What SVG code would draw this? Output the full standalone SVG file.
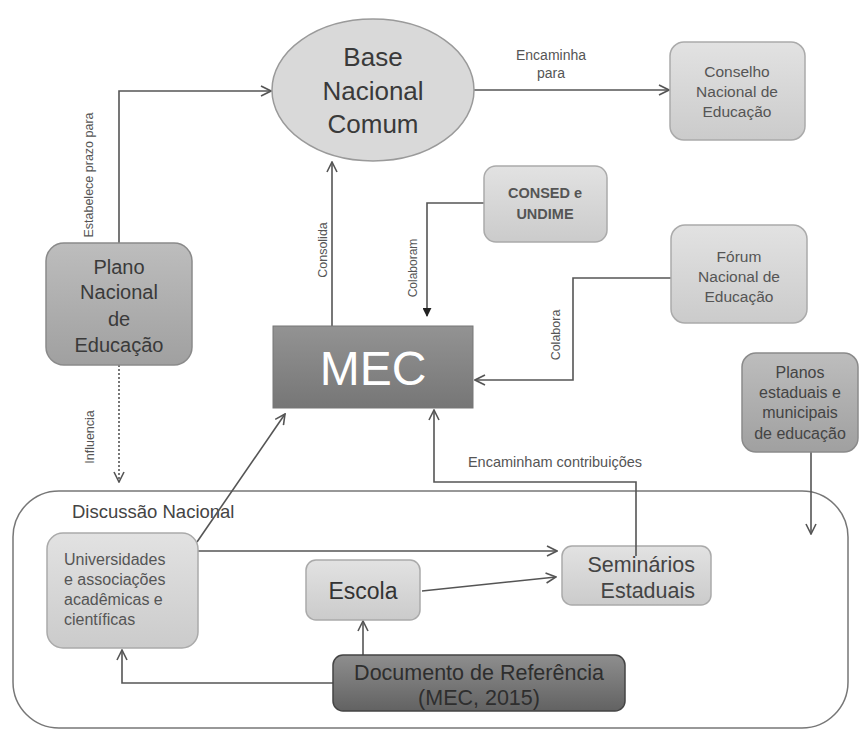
<svg xmlns="http://www.w3.org/2000/svg" width="868" height="729" viewBox="0 0 868 729">
<style>
text{font-family:"Liberation Sans","DejaVu Sans",sans-serif;fill:#3a3a3a;text-anchor:middle}
.lbl{font-size:12.5px;fill:#555}
.c{fill:none;stroke:#555;stroke-width:1.6}
.box{stroke:#aaa;stroke-width:1.5}
</style>
<defs>
<linearGradient id="gl" x1="0" y1="0" x2="0" y2="1"><stop offset="0" stop-color="#e2e2e2"/><stop offset="1" stop-color="#cbcbcb"/></linearGradient>
<linearGradient id="gm" x1="0" y1="0" x2="0" y2="1"><stop offset="0" stop-color="#bdbdbd"/><stop offset="1" stop-color="#a0a0a0"/></linearGradient>
<linearGradient id="gmec" x1="0" y1="0" x2="0" y2="1"><stop offset="0" stop-color="#939393"/><stop offset="1" stop-color="#767676"/></linearGradient>
<linearGradient id="gdoc" x1="0" y1="0" x2="0" y2="1"><stop offset="0" stop-color="#8e8e8e"/><stop offset="1" stop-color="#626262"/></linearGradient>
<marker id="ao" viewBox="0 0 12 12" refX="11" refY="6" markerWidth="12" markerHeight="12" markerUnits="userSpaceOnUse" orient="auto"><path d="M1,1 L11,6 L1,11" fill="none" stroke="#555" stroke-width="1.6"/></marker>
<marker id="af" viewBox="0 0 10 10" refX="9" refY="5" markerWidth="9" markerHeight="9" markerUnits="userSpaceOnUse" orient="auto"><path d="M0,0 L10,5 L0,10 Z" fill="#222"/></marker>
</defs>

<g id="discussao-nacional">
<rect x="13" y="491" width="835" height="237" rx="46" fill="none" stroke="#777" stroke-width="1.5"/>
<text x="72" y="518" style="text-anchor:start;font-size:18.5px;fill:#444">Discussão Nacional</text>
</g>

<g id="connectors">
<path class="c" d="M119,243 V91 H271" marker-end="url(#ao)"/>
<text class="lbl" transform="translate(93,175) rotate(-90)">Estabelece prazo para</text>
<path class="c" d="M473,90 H669" marker-end="url(#ao)"/>
<text x="551" y="60" style="font-size:14px;fill:#555">Encaminha</text>
<text x="551" y="78" style="font-size:14px;fill:#555">para</text>
<path class="c" d="M119,365 V482" stroke-dasharray="2,2" marker-end="url(#ao)"/>
<text class="lbl" transform="translate(94,437) rotate(-90)">Influencia</text>
<path class="c" d="M332,326 V162" marker-end="url(#ao)"/>
<text class="lbl" transform="translate(327,250) rotate(-90)">Consolida</text>
<path class="c" d="M484,203 H427 V316" marker-end="url(#af)"/>
<text class="lbl" transform="translate(417,268) rotate(-90)" style="font-size:12px">Colaboram</text>
<path class="c" d="M671,278 H573 V380 H475" marker-end="url(#ao)"/>
<text class="lbl" transform="translate(560,335) rotate(-90)">Colabora</text>
<path class="c" d="M811,452 V534" marker-end="url(#ao)"/>
<path class="c" d="M197,542 L285,414" marker-end="url(#ao)"/>
<path class="c" d="M198,551 H557" marker-end="url(#ao)"/>
<path class="c" d="M422,591 L556,577" marker-end="url(#ao)"/>
<path class="c" d="M363,655 V621" marker-end="url(#ao)"/>
<path class="c" d="M333,683 H122 V650" marker-end="url(#ao)"/>
<text x="555" y="467" style="font-size:14.5px;fill:#555">Encaminham contribuições</text>
</g>

<g id="base-nacional-comum">
<ellipse cx="373" cy="90" rx="101" ry="71" fill="#d9d9d9" stroke="#9a9a9a" stroke-width="1.5"/>
<text x="373" y="66" style="font-size:26px">Base</text>
<text x="373" y="100" style="font-size:26px">Nacional</text>
<text x="373" y="133" style="font-size:26px">Comum</text>
</g>

<g id="conselho">
<rect class="box" x="670" y="42" width="135" height="98" rx="14" fill="url(#gl)"/>
<text x="737" y="77" style="font-size:15.5px;fill:#555">Conselho</text>
<text x="737" y="97" style="font-size:15.5px;fill:#555">Nacional de</text>
<text x="737" y="117" style="font-size:15.5px;fill:#555">Educação</text>
</g>

<g id="plano-nacional">
<rect x="46" y="243" width="146" height="122" rx="18" fill="url(#gm)" stroke="#8a8a8a" stroke-width="1.5"/>
<text x="119" y="274" style="font-size:20px">Plano</text>
<text x="119" y="299" style="font-size:20px">Nacional</text>
<text x="119" y="326" style="font-size:20px">de</text>
<text x="119" y="352" style="font-size:20px">Educação</text>
</g>

<g id="consed">
<rect class="box" x="484" y="166" width="123" height="76" rx="12" fill="url(#gl)"/>
<text x="545" y="198" style="font-size:14.5px;font-weight:bold;fill:#555">CONSED e</text>
<text x="545" y="219" style="font-size:14.5px;font-weight:bold;fill:#555">UNDIME</text>
</g>

<g id="mec">
<rect x="273" y="326" width="200" height="82" fill="url(#gmec)" stroke="#777" stroke-width="1"/>
<text x="373" y="385" style="font-size:48px;fill:#fff">MEC</text>
</g>

<g id="forum">
<rect class="box" x="671" y="225" width="136" height="98" rx="14" fill="url(#gl)"/>
<text x="739" y="262" style="font-size:15.5px;fill:#555">Fórum</text>
<text x="739" y="282" style="font-size:15.5px;fill:#555">Nacional de</text>
<text x="739" y="302" style="font-size:15.5px;fill:#555">Educação</text>
</g>

<g id="planos-estaduais">
<rect x="742" y="353" width="116" height="99" rx="14" fill="url(#gm)" stroke="#8a8a8a" stroke-width="1.5"/>
<text x="800" y="378" style="font-size:16px;fill:#444">Planos</text>
<text x="800" y="398" style="font-size:16px;fill:#444">estaduais e</text>
<text x="800" y="418" style="font-size:16px;fill:#444">municipais</text>
<text x="800" y="439" style="font-size:16px;fill:#444">de educação</text>
</g>

<g id="universidades">
<rect class="box" x="47" y="533" width="151" height="115" rx="16" fill="url(#gl)"/>
<text x="64" y="565" style="text-anchor:start;font-size:16px;fill:#555">Universidades</text>
<text x="64" y="585" style="text-anchor:start;font-size:16px;fill:#555">e associações</text>
<text x="64" y="605" style="text-anchor:start;font-size:16px;fill:#555">acadêmicas e</text>
<text x="64" y="625" style="text-anchor:start;font-size:16px;fill:#555">científicas</text>
</g>

<g id="escola">
<rect class="box" x="306" y="560" width="114" height="60" rx="10" fill="url(#gl)"/>
<text x="363" y="599" style="font-size:23px;fill:#333">Escola</text>
</g>

<g id="seminarios">
<rect class="box" x="562" y="546" width="149" height="59" rx="10" fill="url(#gl)"/>
<text x="695" y="572" style="text-anchor:end;font-size:21.5px;fill:#444">Seminários</text>
<text x="695" y="598" style="text-anchor:end;font-size:21.5px;fill:#444">Estaduais</text>
</g>
<path class="c" d="M636,556 V482 H434 V410" marker-end="url(#ao)"/>

<g id="documento">
<rect x="333" y="655" width="292" height="56" rx="10" fill="url(#gdoc)" stroke="#444" stroke-width="1.5"/>
<text x="479" y="680" style="font-size:21.5px;fill:#2e2e2e">Documento de Referência</text>
<text x="479" y="705" style="font-size:21.5px;fill:#2e2e2e">(MEC, 2015)</text>
</g>
</svg>
